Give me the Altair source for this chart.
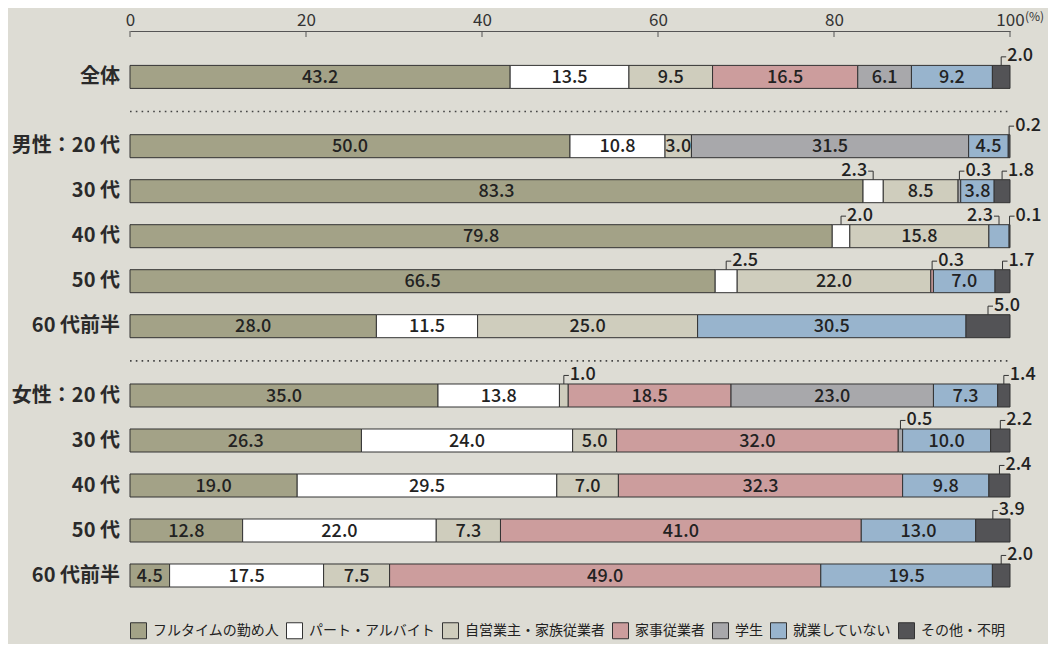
import altair as alt
import pandas as pd

# ---------------- data ----------------
categories = ["フルタイムの勤め人", "パート・アルバイト", "自営業主・家族従業者",
              "家事従業者", "学生", "就業していない", "その他・不明"]
colors = ["#a3a287", "#ffffff", "#cfcdbd", "#cc9d9d", "#a8a8ab", "#98b4cd", "#535356"]

row_labels = ["全体", "男性：20 代", "30 代", "40 代", "50 代", "60 代前半",
              "女性：20 代", "30 代", "40 代", "50 代", "60 代前半"]
row_groups = [0, 1, 1, 1, 1, 1, 2, 2, 2, 2, 2]

full_time   = [43.2, 50.0, 83.3, 79.8, 66.5, 28.0, 35.0, 26.3, 19.0, 12.8, 4.5]
part_time   = [13.5, 10.8, 2.3, 2.0, 2.5, 11.5, 13.8, 24.0, 29.5, 22.0, 17.5]
self_emp    = [9.5, 3.0, 8.5, 15.8, 22.0, 25.0, 1.0, 5.0, 7.0, 7.3, 7.5]
housework   = [16.5, 0.0, 0.0, 0.0, 0.3, 0.0, 18.5, 32.0, 32.3, 41.0, 49.0]
student     = [6.1, 31.5, 0.3, 0.0, 0.0, 0.0, 23.0, 0.5, 0.0, 0.0, 0.0]
not_working = [9.2, 4.5, 3.8, 2.3, 7.0, 30.5, 7.3, 10.0, 9.8, 13.0, 19.5]
other       = [2.0, 0.2, 1.8, 0.1, 1.7, 5.0, 1.4, 2.2, 2.4, 3.9, 2.0]

# labels drawn outside the bar with a small bracket: (row, category index, side)
outside = [(0, 6, "r"), (1, 6, "r"), (2, 1, "l"), (2, 4, "r"), (2, 6, "r"),
           (3, 1, "r"), (3, 5, "l"), (3, 6, "r"), (4, 1, "r"), (4, 3, "r"),
           (4, 6, "r"), (5, 6, "r"), (6, 2, "r"), (6, 6, "r"), (7, 4, "r"),
           (7, 6, "r"), (8, 6, "r"), (9, 6, "r"), (10, 6, "r")]

tick_values = [0, 20, 40, 60, 80, 100]

# ---------------- layout helpers ----------------
series = [full_time, part_time, self_emp, housework, student, not_working, other]
ROW_START, GROUP_GAP = 1.02, 0.54
HALF = 0.2556          # half bar thickness (row units; 1 unit = 45 px)
BRK_H = 0.19           # bracket height
BRK_W = 0.57           # bracket width (x units)

row_pos = [ROW_START + i + GROUP_GAP * g for i, g in enumerate(row_groups)]
out_map = {(r, c): s for r, c, s in outside}

seg_rows, out_rows = [], []
for r in range(len(row_labels)):
    start = 0.0
    for c, vals in enumerate(series):
        v = vals[r]
        if v > 0:
            rec = dict(row=r, cat=categories[c], cidx=c, v=v, x0=start, x1=start + v,
                       mid=start + v / 2, pos=row_pos[r],
                       ytop=row_pos[r] - HALF, ybot=row_pos[r] + HALF,
                       label=f"{v:.1f}", outside=(r, c) in out_map)
            seg_rows.append(rec)
            if (r, c) in out_map:
                side = out_map[(r, c)]
                o = dict(rec)
                o["side"] = side
                o["ybrk"] = rec["ytop"] - BRK_H
                o["xh"] = rec["mid"] + (BRK_W if side == "r" else -BRK_W)
                out_rows.append(o)
        start += v

segs = pd.DataFrame(seg_rows)
outs = pd.DataFrame(out_rows)
rows_df = pd.DataFrame({"label": row_labels, "pos": row_pos, "group": row_groups})
seps = pd.DataFrame({"y": [(row_pos[i] + row_pos[i + 1]) / 2
                           for i in range(len(row_pos) - 1)
                           if row_groups[i] != row_groups[i + 1]]})
ticks_df = pd.DataFrame({"t": tick_values})

FONT = "Noto Sans CJK JP"
TXT = "#222222"

xscale = alt.Scale(domain=[0, 100], nice=False, zero=False)
yscale = alt.Scale(domain=[0, 12.6], reverse=True, nice=False, zero=False)
xaxis = alt.Axis(orient="top", values=tick_values, grid=False, tickSize=0,
                 labelPadding=6, labelFontSize=17, labelFont=FONT, labelColor="#333",
                 labelBaseline="alphabetic",
                 domainColor="#555", domainWidth=1, title=None, labelFlush=False)


def X(f):
    return alt.X(f, type="quantitative", scale=xscale, axis=xaxis)


def Y(f):
    return alt.Y(f, type="quantitative", scale=yscale, axis=None)


bars = alt.Chart(segs).mark_rect(stroke="#333", strokeWidth=1).encode(
    x=X("x0"), x2="x1", y=Y("ytop"), y2="ybot",
    color=alt.Color("cat:N", scale=alt.Scale(domain=categories, range=colors),
                    sort=categories,
                    legend=alt.Legend(orient="none", legendX=0, legendY=591,
                                      direction="horizontal", columns=7, title=None,
                                      symbolType="square", symbolSize=256,
                                      symbolStrokeColor="#333", symbolStrokeWidth=1,
                                      symbolOpacity=1,
                                      labelFont=FONT, labelFontSize=14, labelColor="#222",
                                      labelOffset=6, columnPadding=5, labelLimit=300)),
)

inside_text = alt.Chart(segs).transform_filter("!datum.outside").mark_text(
    font=FONT, fontSize=18, fontWeight=500, color=TXT, baseline="middle",
    align="center", dy=1
).encode(x=X("mid"), y=Y("pos"), text="label:N")

brk_v = alt.Chart(outs).mark_rule(color="#333", strokeWidth=1).encode(
    x=X("mid"), y=Y("ytop"), y2="ybrk")
brk_h = alt.Chart(outs).mark_rule(color="#333", strokeWidth=1).encode(
    x=X("mid"), x2="xh", y=Y("ybrk"))

out_r = alt.Chart(outs).transform_filter("datum.side == 'r'").mark_text(
    font=FONT, fontSize=18, fontWeight=500, color=TXT, baseline="middle",
    align="left", dx=1, dy=-0.5
).encode(x=X("xh"), y=Y("ybrk"), text="label:N")
out_l = alt.Chart(outs).transform_filter("datum.side == 'l'").mark_text(
    font=FONT, fontSize=18, fontWeight=500, color=TXT, baseline="middle",
    align="right", dx=-1, dy=-0.5
).encode(x=X("xh"), y=Y("ybrk"), text="label:N")

sep_lines = alt.Chart(seps).mark_rule(color="#444", strokeWidth=1.6,
                                      strokeDash=[1.6, 4.2]).encode(
    x=alt.datum(0, type="quantitative", scale=xscale, axis=xaxis),
    x2=alt.datum(100), y=Y("y"))

row_text = alt.Chart(rows_df).mark_text(
    font=FONT, fontSize=20, fontWeight="bold", color="#2a2a2a",
    align="right", baseline="middle", dx=-10, dy=0
).encode(x=alt.value(0), y=Y("pos"), text="label:N")

tick_marks = alt.Chart(ticks_df).mark_rule(color="#555", strokeWidth=1).encode(
    x=X("t"), y=alt.value(0), y2=alt.value(6))

pct = alt.Chart(pd.DataFrame({"t": ["(%)"]})).mark_text(
    font=FONT, fontSize=12, color="#333", align="left", baseline="middle"
).encode(x=alt.value(895), y=alt.value(-14), text="t:N")

chart = alt.layer(
    bars, inside_text, brk_v, brk_h, out_r, out_l, sep_lines, row_text, tick_marks, pct
).properties(
    width=880, height=567,
    autosize=alt.AutoSizeParams(type="none"),
    padding={"left": 122, "top": 23, "right": 38, "bottom": 46},
    background="#dddcd4",
).configure_view(stroke=None).configure_axis(
    labelFontSize=17, labelFont=FONT, labelColor="#333", tickSize=0, labelPadding=6,
    labelBaseline="alphabetic", domainColor="#555", grid=False
)

chart.save("out.html", embed_options={"renderer": "svg", "actions": False})
